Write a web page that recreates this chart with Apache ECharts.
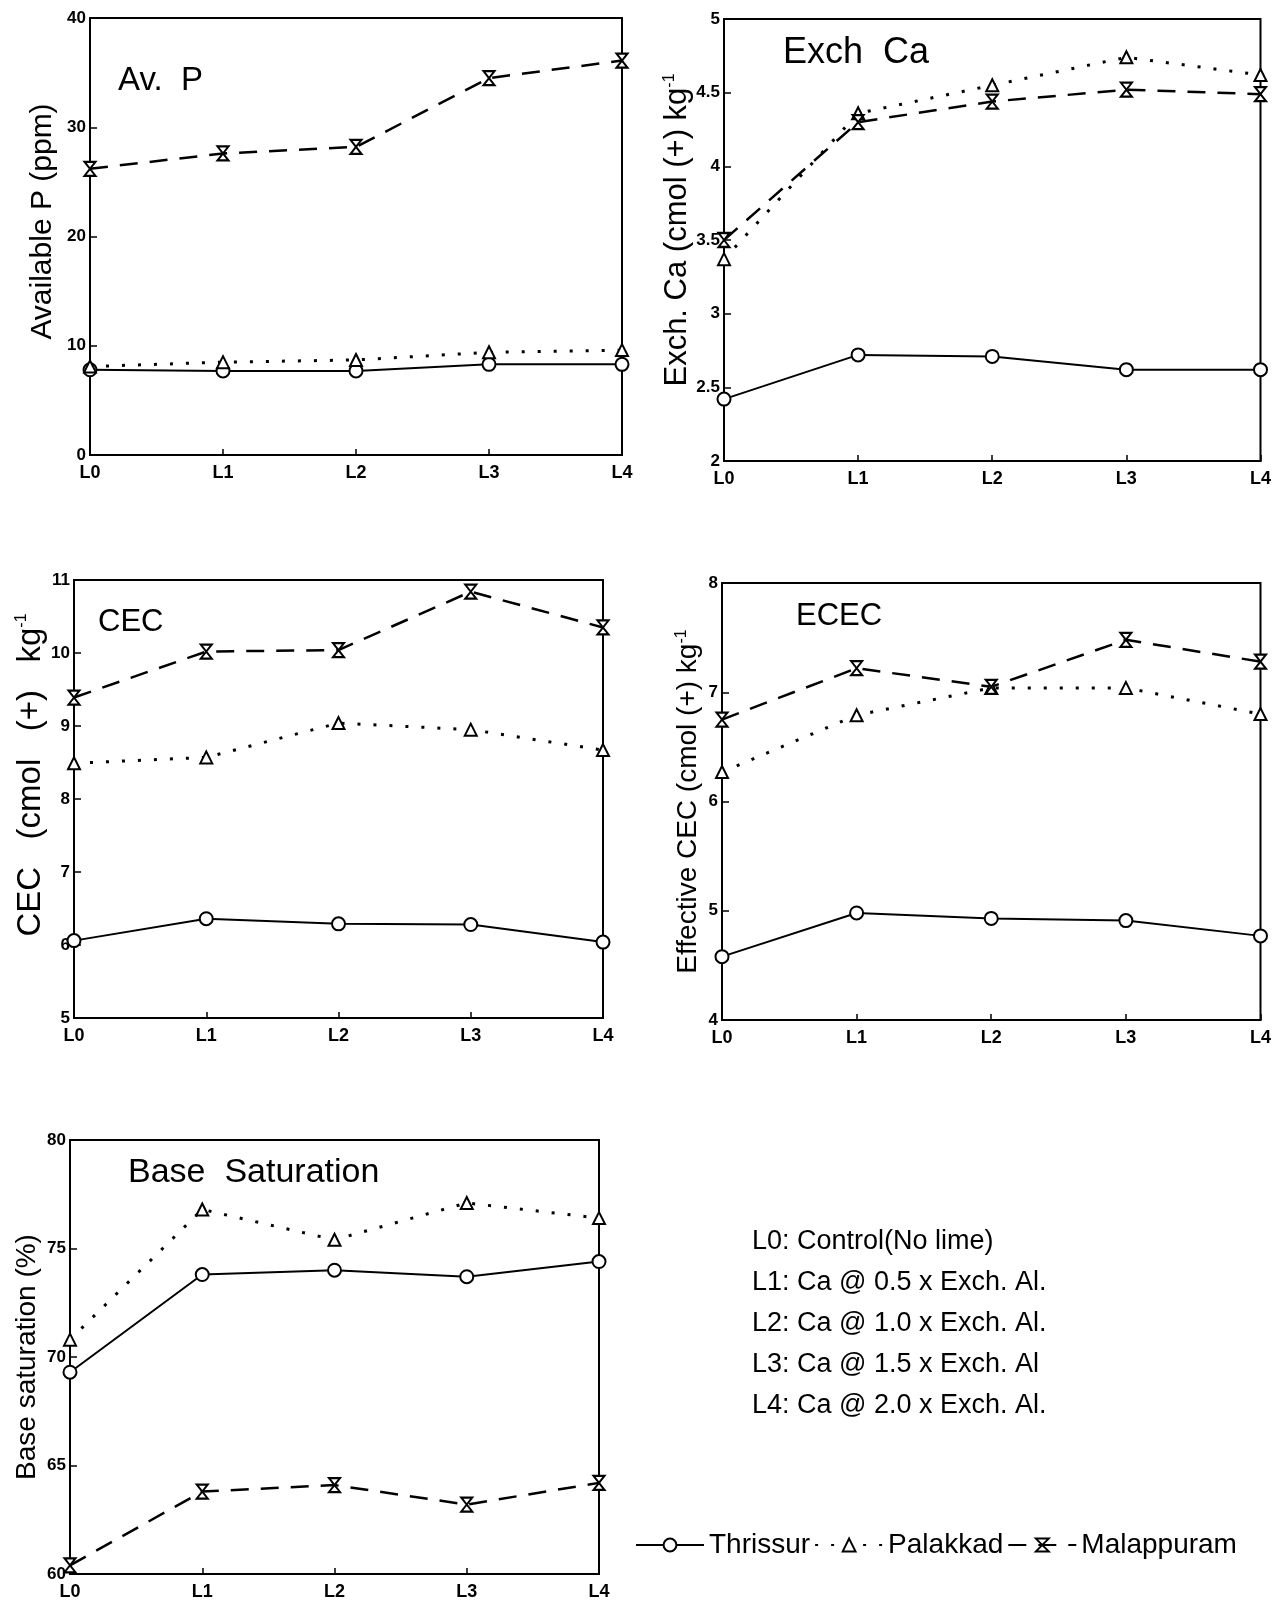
<!DOCTYPE html>
<html>
<head>
<meta charset="utf-8">
<title>Lime levels - soil properties</title>
<script src="https://cdn.jsdelivr.net/npm/echarts@6/dist/echarts.min.js"></script>
<style>
  html, body { margin: 0; padding: 0; background: #fff; }
  #chart { width: 1274px; height: 1604px; }
</style>
</head>
<body>
<div id="chart"></div>
<script>
// lime levels on every x axis
const levels = ['L0', 'L1', 'L2', 'L3', 'L4']

// Av. P (ppm)
const avpThrissur = [7.8, 7.7, 7.7, 8.3, 8.3]
const avpPalakkad = [8.1, 8.5, 8.7, 9.4, 9.6]
const avpMalappuram = [26.2, 27.6, 28.2, 34.5, 36.1]
// Exch Ca
const caThrissur = [2.42, 2.72, 2.71, 2.62, 2.62]
const caPalakkad = [3.37, 4.36, 4.55, 4.74, 4.62]
const caMalappuram = [3.50, 4.30, 4.44, 4.52, 4.49]
// CEC
const cecThrissur = [6.06, 6.36, 6.29, 6.28, 6.04]
const cecPalakkad = [8.49, 8.57, 9.04, 8.95, 8.67]
const cecMalappuram = [9.39, 10.02, 10.04, 10.84, 10.35]
// ECEC
const ececThrissur = [4.58, 4.98, 4.93, 4.91, 4.77]
const ececPalakkad = [6.27, 6.79, 7.04, 7.04, 6.80]
const ececMalappuram = [6.75, 7.22, 7.05, 7.48, 7.28]
// Base saturation (%)
const bsThrissur = [69.3, 73.8, 74.0, 73.7, 74.4]
const bsPalakkad = [70.8, 76.8, 75.4, 77.1, 76.4]
const bsMalappuram = [60.4, 63.8, 64.1, 63.2, 64.2]

const levelNotes = [
  'L0: Control(No lime)',
  'L1: Ca @ 0.5 x Exch. Al.',
  'L2: Ca @ 1.0 x Exch. Al.',
  'L3: Ca @ 1.5 x Exch. Al',
  'L4: Ca @ 2.0 x Exch. Al.'
]

const FONT = "'Liberation Sans', Arial, Helvetica, sans-serif"
const NARROW = "'Liberation Sans Narrow', 'Arial Narrow', 'Liberation Sans', sans-serif"
const hourglass = 'path://M0,0L12,0L0,14L12,14Z'

// panel layout: grid box, y range, axis name
const panels = [
  { grid: [90, 18, 532, 437], min: 0, max: 40, step: 10, name: 'Available P (ppm)', gap: 32, font: 30, shift: 30,
    title: 'Av.  P', tx: 118, ty: 84, tsize: 33, data: [avpThrissur, avpPalakkad, avpMalappuram] },
  { grid: [724, 19, 539, 442], min: 2, max: 5, step: 0.5, name: 'Exch. Ca (cmol (+) kg{s|-1}', gap: 19, font: 31, shift: 20,
    title: 'Exch  Ca', tx: 783, ty: 57, tsize: 36, data: [caThrissur, caPalakkad, caMalappuram] },
  { grid: [74, 580, 529, 438], min: 5, max: 11, step: 1, name: 'CEC   (cmol   (+)   kg{s|-1}', gap: 27, font: 33, shift: 48,
    title: 'CEC', tx: 98, ty: 626, tsize: 31, data: [cecThrissur, cecPalakkad, cecMalappuram] },
  { grid: [722, 583, 542, 437], min: 4, max: 8, step: 1, name: 'Effective CEC (cmol (+) kg{s|-1}', gap: 20, font: 28, shift: 0,
    title: 'ECEC', tx: 796, ty: 620, tsize: 31, data: [ececThrissur, ececPalakkad, ececMalappuram] },
  { grid: [70, 1140, 529, 434], min: 60, max: 80, step: 5, name: 'Base saturation (%)', gap: 29, font: 28, shift: 0,
    title: 'Base  Saturation', tx: 128, ty: 1176, tsize: 34, data: [bsThrissur, bsPalakkad, bsMalappuram] }
]

const sites = [
  { name: 'Thrissur', symbol: 'circle', size: 13, line: { color: '#000', width: 2, type: 'solid' } },
  { name: 'Palakkad', symbol: 'triangle', size: 12, line: { color: '#000', width: 3, type: [3, 13] } },
  { name: 'Malappuram', symbol: hourglass, size: [11, 14], line: { color: '#000', width: 2.5, type: [18, 12] } }
]

const chart = echarts.init(document.getElementById('chart'))

const grids = []
const xAxes = []
const yAxes = []
const series = []
const graphics = []

panels.forEach((p, i) => {
  grids.push({
    left: p.grid[0], top: p.grid[1], width: p.grid[2], height: p.grid[3],
    show: true, borderColor: '#000', borderWidth: 2, backgroundColor: 'transparent'
  })
  xAxes.push({
    gridIndex: i,
    type: 'category',
    boundaryGap: false,
    data: levels,
    axisLine: { lineStyle: { color: '#000', width: 2 } },
    axisTick: { inside: true, length: 6, lineStyle: { color: '#000', width: 1.5 } },
    axisLabel: { color: '#000', fontFamily: NARROW, fontWeight: 'bold', fontSize: 18, margin: 9 },
    splitLine: { show: false }
  })
  yAxes.push({
    gridIndex: i,
    type: 'value',
    min: p.min, max: p.max, interval: p.step,
    axisLine: { show: true, lineStyle: { color: '#000', width: 2 } },
    axisTick: { show: true, inside: true, length: 7, lineStyle: { color: '#000', width: 1.5 } },
    axisLabel: { color: '#000', fontFamily: FONT, fontWeight: 'bold', fontSize: 17, margin: 4 },
    splitLine: { show: false },
    name: p.name,
    nameLocation: 'middle',
    nameGap: p.gap,
    nameTextStyle: {
      color: '#000', fontFamily: FONT, fontSize: p.font,
      padding: [0, 0, 0, p.shift],
      rich: { s: { fontSize: 16, fontFamily: FONT, color: '#000', verticalAlign: 'top' } }
    }
  })
  sites.forEach((s, k) => {
    series.push({
      name: s.name,
      type: 'line',
      xAxisIndex: i,
      yAxisIndex: i,
      data: p.data[k],
      symbol: s.symbol,
      symbolSize: s.size,
      showAllSymbol: true,
      lineStyle: s.line,
      itemStyle: { color: '#fff', borderColor: '#000', borderWidth: 2 },
      emphasis: { disabled: true },
      animation: false,
      z: 3
    })
  })
  graphics.push({
    type: 'text', left: p.tx, top: p.ty - p.tsize * 0.6,
    style: { text: p.title, font: p.tsize + 'px ' + FONT, fill: '#000' }
  })
})

// level descriptions block
levelNotes.forEach((t, k) => {
  graphics.push({
    type: 'text', left: 752, top: 1228 + k * 41,
    style: { text: t, font: '27px ' + NARROW, fill: '#000' }
  })
})

chart.setOption({
  backgroundColor: '#fff',
  animation: false,
  grid: grids,
  xAxis: xAxes,
  yAxis: yAxes,
  series: series,
  graphic: graphics,
  legend: {
    data: ['Thrissur', 'Palakkad', 'Malappuram'],
    left: 630,
    top: 1526,
    itemWidth: 68,
    itemHeight: 16,
    itemGap: 4,
    textStyle: { color: '#000', fontFamily: FONT, fontSize: 28 },
    selectedMode: false
  }
})
</script>
</body>
</html>
